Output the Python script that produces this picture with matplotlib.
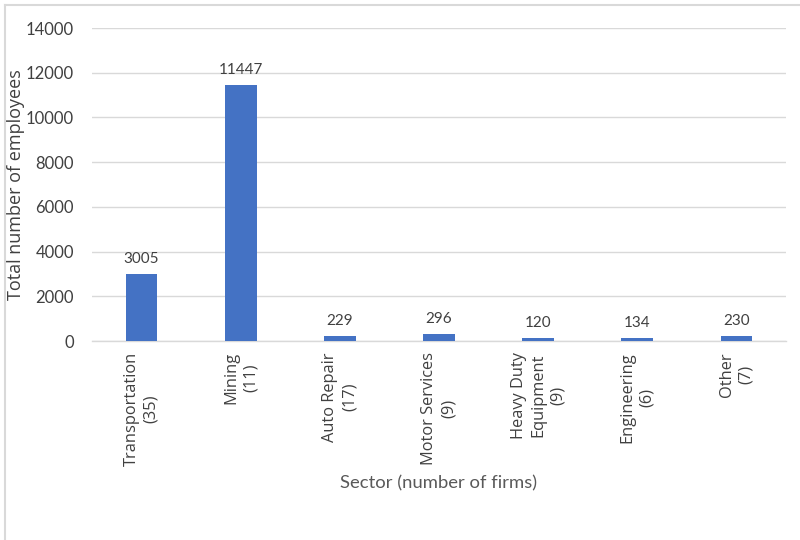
import matplotlib.pyplot as plt
from matplotlib.lines import Line2D

# employees per sector, firm counts in brackets
sectors = ['Transportation', 'Mining', 'Auto Repair', 'Motor Services',
           'Heavy Duty\nEquipment', 'Engineering', 'Other']
firms = [35, 11, 17, 9, 9, 6, 7]
employees = [3005, 11447, 229, 296, 120, 134, 230]

labels = [s + '\n(' + str(n) + ')' for s, n in zip(sectors, firms)]

fig = plt.figure(figsize=(8, 5.4), dpi=100)
ax = fig.add_axes([0.115, 0.3685, 0.8675, 0.5795])

x = range(len(sectors))
bars = ax.bar(x, employees, width=0.32, color='#4472C4', zorder=3)

ax.set_xlim(-0.5, len(sectors) - 0.5)
ax.set_ylim(0, 14000)
ax.set_yticks(range(0, 14001, 2000))
ax.grid(axis='y', color='#d9d9d9', linewidth=1, zorder=0)

for side in ['top', 'right', 'left']:
    ax.spines[side].set_visible(False)
ax.spines['bottom'].set_color('#d9d9d9')
ax.spines['bottom'].set_linewidth(1)

ax.tick_params(axis='both', length=0)
ax.tick_params(axis='y', pad=13, labelsize=12, labelcolor='#404040')
ax.set_xticks(list(x))
ax.set_xticklabels(labels, rotation=90, ha='center', va='top', multialignment='center',
                   fontsize=11.8, color='#404040', family='Open Sans', linespacing=1.3)
ax.tick_params(axis='x', pad=8)
for t in ax.get_yticklabels():
    t.set_family('Lato')

# value labels above each bar
for b, v in zip(bars, employees):
    ax.annotate(str(v), (b.get_x() + b.get_width() / 2, v), xytext=(0, 6),
                textcoords='offset points', ha='center', va='bottom',
                fontsize=11, color='#404040', family='Lato')

ax.set_ylabel('Total number of employees', fontsize=13, color='#404040', family='Open Sans')
ax.yaxis.set_label_coords(-0.097, 0.5)
ax.set_xlabel('Sector (number of firms)', fontsize=13.3, color='#595959', family='Lato')
ax.xaxis.set_label_coords(0.5, -0.43)

# chart area outline
fig.add_artist(Line2D([5 / 800, 1], [1 - 5 / 540, 1 - 5 / 540], color='#d9d9d9', lw=1.5,
                      transform=fig.transFigure))
fig.add_artist(Line2D([5 / 800, 5 / 800], [0, 1 - 5 / 540], color='#d9d9d9', lw=1.5,
                      transform=fig.transFigure))

fig.savefig('out.png', dpi=100)
